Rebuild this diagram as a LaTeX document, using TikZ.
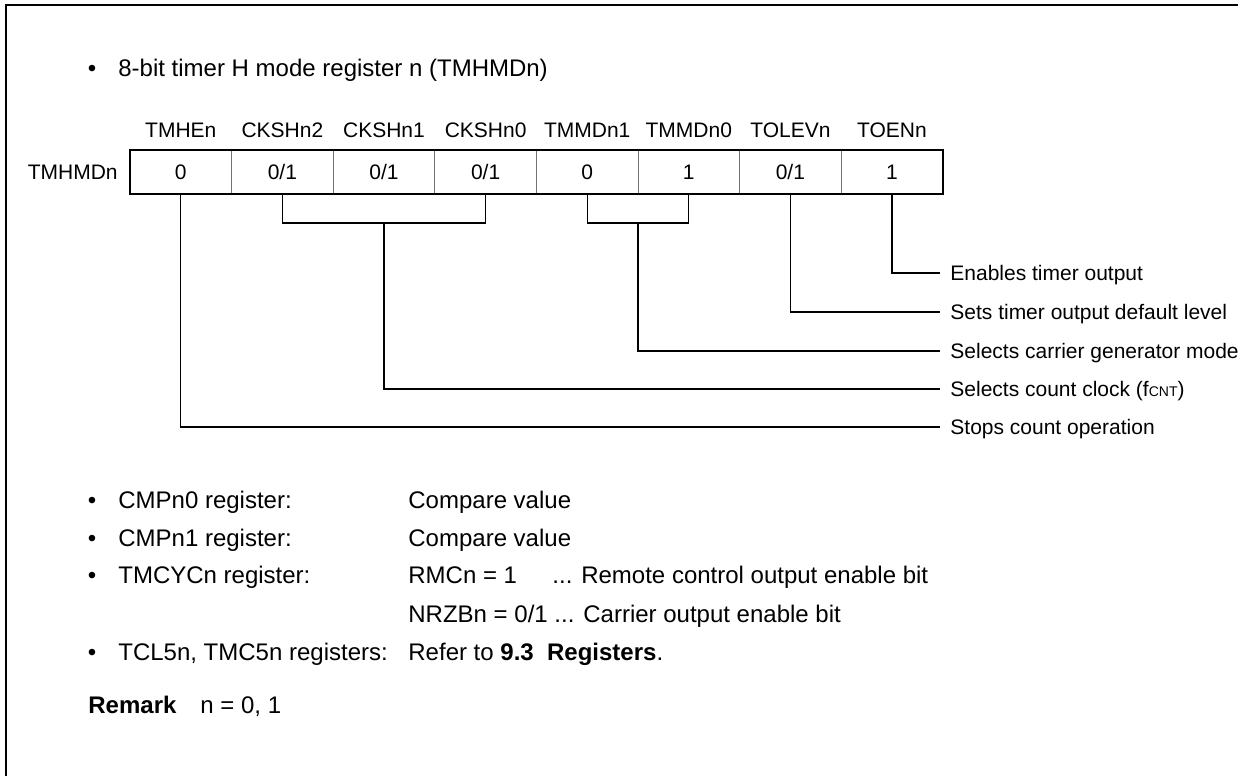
\documentclass[tikz,border=0pt]{standalone}
\usepackage{fontspec}
\setmainfont{Liberation Sans}
\begin{document}
\begin{tikzpicture}[x=0.5pt,y=-0.5pt,
  txt/.style={inner sep=0pt, text height=7.5pt, text depth=0pt, font=\fontsize{10.5}{12}\selectfont},
  body/.style={inner sep=0pt, text height=8.6pt, text depth=0pt, font=\fontsize{12}{14}\selectfont},
  cell/.style={txt, draw=black!55, line width=0.5pt, minimum width=50.8pt, minimum height=21.5pt},
  desc/.style={txt, anchor=west, inner xsep=5pt},
  conn/.style={line width=0.6pt, black}]
\useasboundingbox (0,0) rectangle (1246,776);
% frame
\draw[line width=1pt] (6,776) -- (6,4.5) -- (1238,4.5);
% title
\node[body] (b0) at (92,68) {•};
\node[body, anchor=west] (title) at (118,68) {8-bit timer H mode register n (TMHMDn)};
% register
\node[txt, anchor=east] (reg) at (118,171.5) {TMHMDn};
\foreach \i/\v/\n in {0/0/TMHEn,1/0\slash 1/CKSHn2,2/0\slash 1/CKSHn1,3/0\slash 1/CKSHn0,4/0/TMMDn1,5/1/TMMDn0,6/0\slash 1/TOLEVn,7/1/TOENn}{
  \node[cell] (c\i) at (180.8+101.6*\i,171.5) {\v};
  \node[txt] (l\i) at (180.8+101.6*\i,130) {\n};
}
\draw[line width=1pt] (c0.north west) rectangle (c7.south east);
% descriptions
\node[desc] (d1) at (940,273) {Enables timer output};
\node[desc] (d2) at (940,312) {Sets timer output default level};
\node[desc] (d3) at (940,351) {Selects carrier generator mode};
\node[desc] (d4) at (940,389) {Selects count clock (f{\fontsize{7}{8}\selectfont CNT})};
\node[desc] (d5) at (940,427) {Stops count operation};
\coordinate (br) at (0,223);
% connectors
\draw[conn] (c7.south) |- (d1.west);
\draw[conn] (c6.south) |- (d2.west);
\draw[conn] (c4.south) -- (c4.south |- br) -- (c5.south |- br) -- (c5.south);
\draw[conn] (c4.south |- br) ++(50.8,0) |- (d3.west);
\draw[conn] (c1.south) -- (c1.south |- br) -- (c3.south |- br) -- (c3.south);
\draw[conn] (c2.south |- br) |- (d4.west);
\draw[conn] (c0.south) |- (d5.west);
% bottom list
\foreach \k/\yy in {1/500,2/538,3/575,4/652}{\node[body] (bb\k) at (92,\yy) {•};}
\node[body, anchor=west] (r1) at (118,500) {CMPn0 register:};
\node[body, anchor=west] (r2) at (118,538) {CMPn1 register:};
\node[body, anchor=west] (r3) at (118,575) {TMCYCn register:};
\node[body, anchor=west] (r4) at (118,652) {TCL5n, TMC5n registers:};
\node[body, anchor=west] (v1) at (408,500) {Compare value};
\node[body, anchor=west] (v2) at (408,538) {Compare value};
\node[body, anchor=west] (v3) at (408,575) {RMCn = 1};
\node[body, anchor=west] (v3b) at (552,575) {... Remote control output enable bit};
\node[body, anchor=west] (v4) at (408,614) {NRZBn = 0/1 ... Carrier output enable bit};
\node[body, anchor=west] (v5) at (408,652) {Refer to \textbf{9.3\ \ Registers}.};
\node[body, anchor=west] (rm) at (88,705) {\textbf{Remark}};
\node[body, anchor=west] (rmv) at (200,705) {n = 0, 1};
\end{tikzpicture}
\end{document}
